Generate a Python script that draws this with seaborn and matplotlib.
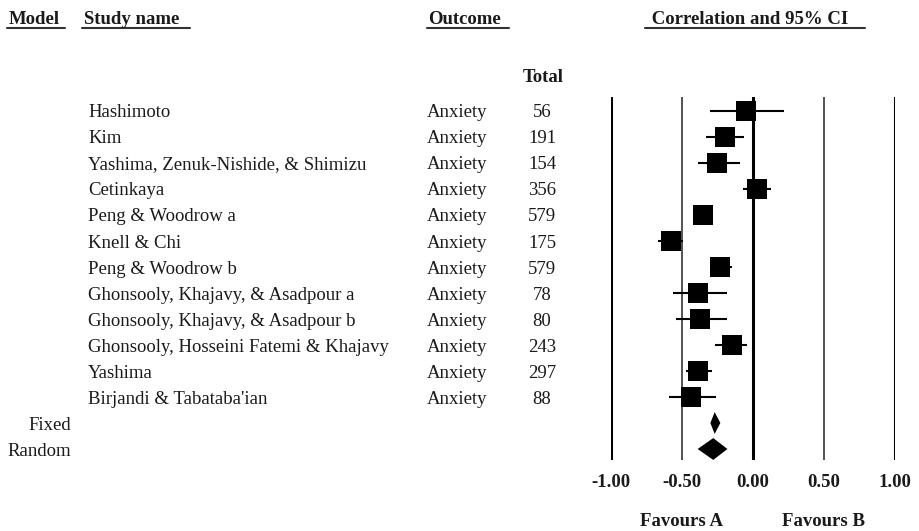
"""
Forest plot: correlation and 95% CI per study
"""
import numpy as np
import pandas as pd
import matplotlib.pyplot as plt
import matplotlib.transforms as mtransforms
from matplotlib.lines import Line2D
import seaborn as sns

# data
studies = ['Hashimoto', 'Kim', 'Yashima, Zenuk-Nishide, & Shimizu', 'Cetinkaya',
           'Peng & Woodrow a', 'Knell & Chi', 'Peng & Woodrow b',
           'Ghonsooly, Khajavy, & Asadpour a', 'Ghonsooly, Khajavy, & Asadpour b',
           'Ghonsooly, Hosseini Fatemi & Khajavy', 'Yashima', "Birjandi & Tabataba'ian"]
outcome = ['Anxiety'] * len(studies)
totals = [56, 191, 154, 356, 579, 175, 579, 78, 80, 243, 297, 88]
corr = [-0.05, -0.20, -0.25, 0.03, -0.35, -0.58, -0.23, -0.39, -0.37, -0.15, -0.39, -0.44]
ci_low = [-0.30, -0.33, -0.39, -0.07, -0.41, -0.67, -0.30, -0.56, -0.54, -0.27, -0.47, -0.59]
ci_high = [0.22, -0.06, -0.09, 0.13, -0.29, -0.49, -0.15, -0.18, -0.18, -0.04, -0.29, -0.26]

models = ['Fixed', 'Random']
model_corr = [-0.27, -0.28]
model_low = [-0.30, -0.39]
model_high = [-0.23, -0.18]

xticks = [-1.0, -0.5, 0.0, 0.5, 1.0]
xtick_labels = ['-1.00', '-0.50', '0.00', '0.50', '1.00']
favours = ['Favours A', 'Favours B']

W, H = 920, 531

sns.set_theme(style='white')
plt.rcParams['font.family'] = ['Liberation Serif', 'DejaVu Serif']
plt.rcParams['axes.unicode_minus'] = False
FS = 13.5
TXT = '#1a1a1a'

df = pd.DataFrame({'study': studies, 'r': corr, 'lo': ci_low, 'hi': ci_high,
                   'row': np.arange(len(studies))})
n = len(studies)

fig = plt.figure(figsize=(W / 100, H / 100), dpi=100)
ax = fig.add_axes([611 / W, (H - 460) / H, 284 / W, 363 / H])
ax.set_xlim(-1, 1)
ax.set_ylim(n + 2 - 1 + 11 / 26, -14 / 26)
for s in ax.spines.values():
    s.set_visible(False)

# reference lines
for xv in xticks:
    thick = xv in (-1.0, 0.0, 1.0)
    ax.axvline(xv, color='black' if thick else '#444444', lw=2.2 if thick else 1.3, zorder=1)

# study CIs and point estimates
ax.hlines(df['row'], df['lo'], df['hi'], color='black', lw=1.5, zorder=2)
sns.scatterplot(data=df, x='r', y='row', marker='s', s=215, color='black',
                edgecolor='black', linewidth=0, legend=False, ax=ax, zorder=3)

# summary diamonds
for i, (m, lo, hi) in enumerate(zip(model_corr, model_low, model_high)):
    yy = n + i
    ax.fill([lo, m, hi, m], [yy, yy - 0.42, yy, yy + 0.42], color='black', lw=0, zorder=3)

ax.set_xticks(xticks)
ax.set_xticklabels(xtick_labels, fontsize=FS, fontweight='bold', color=TXT)
ax.set_yticks([])
ax.tick_params(axis='x', length=0, pad=10)
ax.set_xlabel('')
ax.set_ylabel('')

# text columns, x in pixels, y in rows
rows_tr = mtransforms.blended_transform_factory(fig.transFigure, ax.transData)
for i in range(n):
    ax.text(88 / W, i, studies[i], transform=rows_tr, fontsize=FS, color=TXT,
            va='center_baseline', ha='left')
    ax.text(427 / W, i, outcome[i], transform=rows_tr, fontsize=FS, color=TXT,
            va='center_baseline', ha='left')
    ax.text(542 / W, i, str(totals[i]), transform=rows_tr, fontsize=FS, color=TXT,
            va='center_baseline', ha='center')
for i, m in enumerate(models):
    ax.text(71 / W, n + i, m, transform=rows_tr, fontsize=FS, color=TXT,
            va='center_baseline', ha='right')

# headers with underlines
headers = [('Model', 9, 7, 65), ('Study name', 84, 82, 190),
           ('Outcome', 428, 427, 509), (' Correlation and 95% CI', 647, 645, 865)]
for label, tx, x0, x1 in headers:
    fig.text(tx / W, 1 - 18 / H, label, fontsize=FS, fontweight='bold', color=TXT,
             va='center_baseline', ha='left')
    fig.add_artist(Line2D([x0 / W, x1 / W], [1 - 28 / H, 1 - 28 / H], color='#333333', lw=1.5))
fig.text(543 / W, 1 - 75 / H, 'Total', fontsize=FS, fontweight='bold', color=TXT,
         va='center_baseline', ha='center')

fav_tr = mtransforms.blended_transform_factory(ax.transData, fig.transFigure)
for xv, label in zip([-0.5, 0.5], favours):
    ax.text(xv, 1 - 519 / H, label, transform=fav_tr, fontsize=FS, fontweight='bold',
            color=TXT, va='center_baseline', ha='center')

fig.savefig('out.png', dpi=100)
